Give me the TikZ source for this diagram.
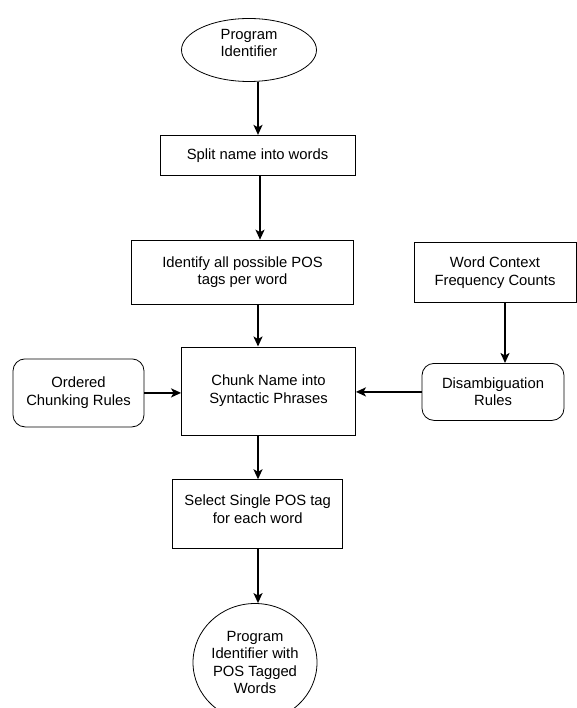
\documentclass[tikz,border=0pt]{standalone}
\usepackage{fontspec}
\setmainfont{Liberation Sans}
\usetikzlibrary{
  shapes.geometric,
  arrows.meta,
  positioning
}
\newcommand{\flowfont}{\fontsize{14.8}{17.5}\selectfont}
\tikzset{
  % Start / end oval
  term/.style={
    ellipse, draw=black, fill=white, line width=0.8pt,
    inner sep=0pt, align=center, font=\flowfont
  },
  % Process box
  proc/.style={
    rectangle, draw=black, fill=white, line width=0.8pt,
    inner sep=0pt, align=center, font=\flowfont
  },
  % Rule / data input box
  inbox/.style={
    rectangle, rounded corners=12pt,
    draw=black, fill=white, line width=0.8pt,
    inner sep=0pt, align=center, font=\flowfont
  },
  % Arrow
  arr/.style={
    -{Stealth[length=10pt,width=9pt,inset=2.5pt]},
    line width=1.8pt, color=black
  }
}

\begin{document}
\begin{tikzpicture}[x=1pt, y=-1pt]
  \fill[white] (0,0) rectangle (576,708);
  \useasboundingbox (0,0) rectangle (576,708);

  % Main column, top to bottom
  \node[term, minimum width=135pt, minimum height=63pt, text depth=14pt] (start) at (249,50) {Program\\Identifier};
  \node[proc, minimum width=195pt, minimum height=40pt, below=53pt of start, xshift=8.5pt]  (split) {Split name into words};
  \node[proc, minimum width=222pt, minimum height=64pt, below=64pt of split, xshift=-15pt]  (ident) {Identify all possible POS\\tags per word};
  \node[proc, minimum width=174pt, minimum height=88pt, below=42pt of ident, xshift=26pt]   (chunk) {Chunk Name into\\Syntactic Phrases};
  \node[proc, minimum width=170pt, minimum height=69pt, text depth=10pt, below=44pt of chunk, xshift=-10.8pt] (select) {Select Single POS tag\\for each word};
  \node[term, minimum width=124pt, minimum height=118pt, below=54pt of select, xshift=-2.7pt] (result) {Program\\Identifier with\\POS Tagged\\Words};

  % Side inputs
  \node[inbox, minimum width=131pt, minimum height=68pt, left=36.7pt of chunk, yshift=-2pt]  (order)  {Ordered\\Chunking Rules};
  \node[inbox, minimum width=142pt, minimum height=57pt, right=65.7pt of chunk, yshift=-1pt] (disamb) {Disambiguation\\Rules};
  \node[proc,  minimum width=162pt, minimum height=60pt, above=60pt of disamb, xshift=2pt]   (counts) {Word Context\\Frequency Counts};

  \coordinate (spine) at (258,0);

  \draw[arr] (start.south -| spine)  -- (split.north -| spine);
  \draw[arr] ([xshift=2pt]split.south -| spine) -- ([xshift=2pt]ident.north -| spine);
  \draw[arr] (ident.south -| spine)  -- (chunk.north -| spine);
  \draw[arr] (chunk.south -| spine)  -- (select.north -| spine);
  \draw[arr] (select.south -| spine) -- (result.north -| spine);

  \draw[arr] (order.east)  -- (order.east -| chunk.west);
  \draw[arr] (disamb.west) -- (disamb.west -| chunk.east);
  \draw[arr] ([xshift=10pt]counts.south) -- ([xshift=10pt]counts.south |- disamb.north);
\end{tikzpicture}
\end{document}
